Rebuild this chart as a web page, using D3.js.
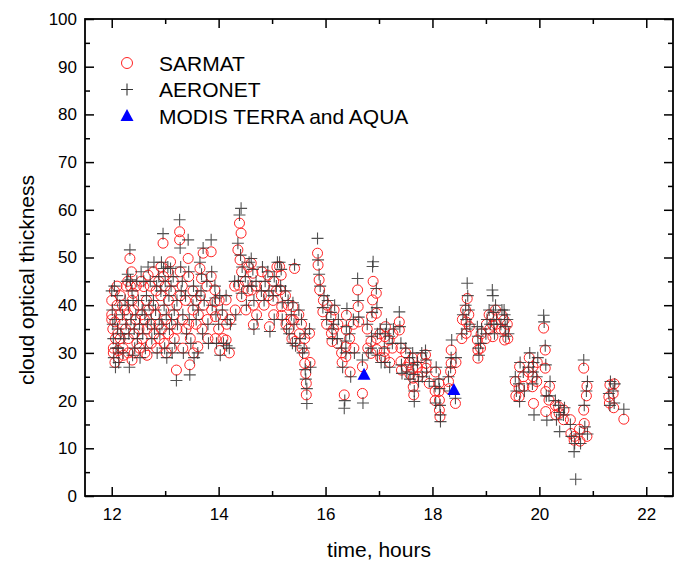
<!DOCTYPE html>
<html>
<head>
<meta charset="utf-8">
<script src="https://cdn.jsdelivr.net/npm/d3@7"></script>
<style>
  body { margin: 0; background: #fff; }
  svg { font-family: "Liberation Sans", Arial, sans-serif; }
</style>
</head>
<body>
<div id="chart"></div>
<script>
// SARMAT retrievals: [time (hours), cloud optical thickness]
var sarmat = [
  [12.0,41],[12.0,38],[12.0,37],[12.02,35],[12.03,31],[12.03,30],
  [12.05,43],[12.06,36.5],[12.06,28],[12.07,33],
  [12.1,40],[12.1,44],[12.11,34],[12.12,30.5],[12.12,29],
  [12.15,38],[12.16,42],[12.16,33],
  [12.2,36],[12.2,40],[12.21,31],[12.22,29.5],
  [12.25,39],[12.26,35],[12.27,44],
  [12.3,45],[12.3,38],[12.31,33],[12.31,30],
  [12.34,49.8],[12.35,44],[12.35,36],
  [12.37,47],[12.38,41],[12.38,28.5],
  [12.4,42.5],[12.41,39],[12.42,34],[12.42,30],
  [12.45,37],[12.46,44],[12.47,32],
  [12.5,40],[12.51,35],[12.52,31],
  [12.55,45],[12.56,38],[12.57,33],
  [12.6,43.9],[12.61,37],[12.62,30],
  [12.65,41],[12.66,35],[12.66,29.5],
  [12.68,46.3],[12.69,39],
  [12.72,44],[12.73,36],[12.74,32],
  [12.78,40],[12.78,47],[12.79,34],
  [12.82,38],[12.83,43],[12.84,31],
  [12.88,45],[12.88,36],[12.89,33],
  [12.92,42],[12.92,48],[12.93,35],
  [12.96,53],[12.97,46],[12.97,39],[12.98,32],
  [13.0,44],[13.01,37],[13.02,30],
  [13.05,47],[13.06,41],[13.06,34],
  [13.1,49.1],[13.1,43],[13.11,36],[13.12,31],
  [13.15,45],[13.16,38],[13.17,33],
  [13.21,26.4],[13.22,40],[13.22,35],
  [13.27,55.4],[13.27,53.7],[13.28,47],[13.28,42],
  [13.32,44],[13.33,37],[13.33,31],
  [13.38,41],[13.39,35],
  [13.43,49.8],[13.44,46],[13.44,36],
  [13.46,27.5],[13.47,33],
  [13.52,39],[13.52,43],[13.53,30],
  [13.58,36],[13.58,41],
  [13.61,31.3],[13.62,38],
  [13.65,47.7],[13.66,42],
  [13.68,45.6],[13.69,35],
  [13.71,50.9],[13.72,40],
  [13.78,44],[13.79,37],[13.8,33],
  [13.86,51.2],[13.86,46],[13.87,39],
  [13.93,43.2],[13.93,40.7],[13.94,37.6],[13.94,33],
  [14.0,35],[14.01,41],[14.02,30.5],
  [14.07,38],[14.08,33],
  [14.14,41.1],[14.14,32.7],[14.15,36],
  [14.2,30],[14.21,37],
  [14.3,44],[14.31,39],
  [14.36,51.6],[14.37,44.2],
  [14.39,57.2],[14.4,49.5],
  [14.42,55.1],[14.43,41.8],[14.43,47],
  [14.5,45],[14.51,39],
  [14.55,43],[14.56,48],
  [14.61,48.8],[14.62,43.2],
  [14.64,46.7],[14.65,40],[14.65,35.9],
  [14.7,44],[14.71,38],
  [14.8,42],[14.81,47],
  [14.85,40],[14.86,44],
  [14.92,46.3],[14.93,42],
  [14.95,35.5],
  [15.02,41],[15.03,38],[15.03,45],
  [15.08,43],[15.09,48],
  [15.14,48.1],[15.15,43.2],
  [15.17,46.3],[15.18,39.7],[15.18,37.9],
  [15.25,42],[15.26,36],
  [15.3,40],[15.31,35],
  [15.36,37],[15.37,33],
  [15.39,39.7],[15.4,36.9],
  [15.42,47.7],[15.43,32.4],
  [15.5,38],[15.51,34],
  [15.55,36],[15.56,31],
  [15.6,29.9],[15.61,27.8],[15.61,33],
  [15.63,25.7],[15.64,23.6],[15.64,21.2],
  [15.7,34.1],[15.71,28],
  [15.85,50.9],[15.86,48.4],
  [15.88,45.3],[15.89,43.2],
  [15.95,38.6],[15.96,41],
  [16.02,36],[16.03,40],
  [16.1,37.6],[16.11,34.1],[16.12,32.4],
  [16.15,35],[16.16,39],
  [16.22,32],[16.23,36],
  [16.3,30],[16.31,28],
  [16.35,21.2],
  [16.38,29.2],[16.38,31.3],[16.39,34.8],[16.39,37.9],
  [16.45,33],[16.46,26],
  [16.52,36],[16.53,31],
  [16.6,43.2],[16.61,39.7],[16.62,36.5],
  [16.69,27.1],[16.69,21.5],
  [16.78,35],[16.79,31],
  [16.85,29.9],[16.85,32.4],[16.86,37.6],
  [16.88,41.1],[16.89,45],
  [16.95,42.5],[16.95,38.3],[16.96,33],[16.96,30.7],
  [17.02,34],[17.03,29],
  [17.1,30.3],[17.1,29],[17.11,33.4],[17.12,35.5],
  [17.19,32.7],[17.2,28],
  [17.25,31],[17.26,34],
  [17.38,36.5],[17.38,34.8],
  [17.41,31],[17.41,28.2],[17.42,26.4],
  [17.5,30],[17.51,27],
  [17.57,28],[17.58,25.5],
  [17.63,28.9],[17.63,26.8],[17.64,24.7],[17.64,22.9],[17.65,21.2],
  [17.72,27],[17.73,25],
  [17.8,29],[17.81,26],
  [17.87,29.6],[17.88,27.8],[17.88,26.8],
  [17.94,23.6],
  [18.05,22],[18.05,20],[18.06,26],
  [18.12,23.6],[18.12,21.9],[18.13,20.1],[18.13,18],[18.14,16.6],
  [18.3,24],[18.31,22.5],
  [18.34,26.1],[18.35,27.8],[18.35,30.6],
  [18.43,19.4],[18.44,28],
  [18.55,33],[18.56,37],
  [18.62,39],[18.63,36.5],[18.63,34.1],[18.65,41.4],
  [18.68,38],[18.69,35.5],
  [18.84,32.7],[18.85,30.6],[18.85,28.9],
  [18.9,31],[18.91,34],
  [19.0,33],[19.01,36],
  [19.06,38],[19.07,35],
  [19.12,37.6],[19.13,35.8],[19.13,33.4],
  [19.18,39],[19.19,36],
  [19.28,35],[19.29,38],
  [19.34,36.9],[19.35,34.8],[19.35,32.7],
  [19.4,36],[19.41,33],
  [19.55,24],[19.56,21],
  [19.62,22.6],[19.62,20.8],[19.63,27.1],
  [19.7,25],[19.71,23],
  [19.8,26],[19.81,29],
  [19.87,22.9],[19.88,25],[19.88,27.1],[19.89,19.4],
  [19.95,24],[19.96,28],
  [20.08,35.2],
  [20.11,30.6],[20.11,26.8],[20.12,21.9],[20.12,17.7],
  [20.18,20.1],[20.19,23],
  [20.3,19],[20.31,17],
  [20.36,18.7],[20.37,17.3],
  [20.45,16],[20.46,18],
  [20.58,16],[20.59,13.1],
  [20.65,11.7],[20.66,12.5],
  [20.75,14],[20.76,11.5],
  [20.83,26.8],[20.83,18],[20.84,15.2],
  [20.88,21],[20.89,23],[20.89,12.5],
  [21.3,20.8],[21.31,19.5],[21.32,23.3],
  [21.38,21.5],[21.39,18.5],[21.4,23.5],
  [21.58,16.1]
];

// AERONET retrievals
var aeronet = [
  [12.0,43],[12.01,39],[12.02,36],[12.03,33],[12.04,29],[12.05,44],[12.06,37],[12.07,27],[12.08,31],
  [12.1,42],[12.11,35],[12.12,31],[12.13,28],[12.15,40],[12.17,34],[12.2,38],[12.21,30],[12.23,33],
  [12.25,41],[12.27,36],[12.28,45],[12.3,46.5],[12.31,40],[12.32,34],[12.33,27],
  [12.34,51.6],[12.35,45.3],[12.36,37],[12.38,43],[12.39,29.5],
  [12.4,41],[12.42,35],[12.43,31],[12.45,38],[12.47,45],[12.48,33],
  [12.5,41],[12.52,36],[12.53,29],[12.55,47],[12.57,39],[12.58,34],
  [12.6,45],[12.62,38],[12.63,31],[12.65,42],[12.67,36],[12.68,48],[12.7,40],
  [12.72,45],[12.74,37],[12.75,33],[12.78,41],[12.79,49],[12.8,35],
  [12.82,39],[12.84,44],[12.85,30],[12.88,46],[12.89,37],[12.9,34],
  [12.92,43],[12.93,49],[12.94,36],[12.96,55],[12.97,47.7],[12.98,40],[12.99,31],
  [13.0,45],[13.02,38],[13.03,29],[13.05,48],[13.07,42],[13.08,35],
  [13.1,47.7],[13.11,44],[13.12,37],[13.13,30],[13.15,46],[13.17,39],[13.18,32],
  [13.21,24.2],[13.22,41],[13.23,36],
  [13.27,57.9],[13.28,52],[13.29,48],[13.3,43],[13.32,45],[13.33,38],[13.34,30],
  [13.38,42],[13.4,34],[13.43,53.7],[13.44,47],[13.45,37],[13.46,25.4],[13.48,32],
  [13.52,40],[13.53,44],[13.54,29],[13.58,37],[13.59,42],[13.61,30],[13.62,39],
  [13.65,49],[13.67,43],[13.68,46.5],[13.7,34],[13.71,52],[13.73,41],
  [13.78,45],[13.8,36],[13.81,32],[13.86,53.7],[13.87,47],[13.88,40],
  [13.93,44],[13.94,41.5],[13.95,38],[13.96,32],
  [14.0,36],[14.02,42],[14.03,29.5],[14.07,39],[14.09,32],
  [14.14,42],[14.15,31.5],[14.16,37],[14.2,31],[14.22,36],
  [14.3,45],[14.32,38],[14.36,53],[14.37,45],
  [14.39,58.9],[14.41,50.5],[14.42,60.3],[14.43,42.5],[14.44,48],
  [14.5,46],[14.52,40],[14.55,44],[14.57,49],[14.61,49.8],[14.62,44],
  [14.64,47.5],[14.66,41],[14.66,35],[14.7,45],[14.72,37],
  [14.8,43],[14.82,48],[14.85,41],[14.87,45],[14.92,47],[14.94,43],[14.96,34.5],
  [15.02,42],[15.04,37],[15.04,46],[15.08,44],[15.1,49],[15.14,49],[15.16,44],
  [15.17,47.5],[15.19,40.5],[15.19,37],[15.25,43],[15.27,35],[15.3,41],[15.32,34],
  [15.36,38],[15.38,32],[15.39,40.5],[15.41,36],[15.42,48.5],[15.44,31.5],
  [15.5,39],[15.52,33],[15.55,37],[15.57,30],
  [15.6,31],[15.62,26.5],[15.62,34],[15.63,24.5],[15.65,22.5],[15.65,19.4],
  [15.7,35],[15.72,27],
  [15.85,54],[15.86,49.5],[15.88,46.5],[15.9,44],[15.95,39.5],[15.97,42],
  [16.02,37],[16.04,41],[16.1,38.5],[16.12,35],[16.13,33],[16.15,36],[16.17,40],
  [16.22,33],[16.24,37],[16.3,31],[16.32,27],
  [16.35,18.4],[16.36,20],[16.38,30],[16.38,32.5],[16.39,35.5],[16.4,39.3],
  [16.45,34],[16.47,25],[16.52,37],[16.54,30],
  [16.6,45.6],[16.61,41],[16.62,37.5],[16.69,28.5],[16.7,19.5],
  [16.78,36],[16.8,30],[16.85,31],[16.86,33.5],[16.87,38.5],
  [16.88,48.1],[16.89,49.1],[16.95,43.5],[16.96,39.5],[16.97,34],[16.97,29.5],
  [17.02,35],[17.04,28],
  [17.1,31],[17.11,28],[17.12,34],[17.14,36],[17.19,33.5],[17.2,27],
  [17.25,32],[17.27,35],
  [17.38,38.6],[17.39,35.5],[17.41,32],[17.42,27.5],[17.43,25.7],
  [17.5,31],[17.52,26],[17.57,29],[17.58,24.5],
  [17.63,30],[17.64,27.5],[17.65,25.5],[17.66,22],[17.66,19.8],
  [17.72,28],[17.74,24],[17.8,30],[17.81,25],
  [17.87,30.5],[17.88,28.5],[17.89,26],[17.94,24],
  [18.05,23],[18.06,19.5],[18.07,27],
  [18.12,24.5],[18.13,22.5],[18.14,19],[18.15,17],[18.15,15.6],
  [18.3,25],[18.32,22],[18.34,27],[18.35,29],[18.36,32.7],
  [18.43,20.5],[18.44,29],
  [18.55,34],[18.57,38],[18.62,40],[18.63,37],[18.64,35],[18.65,44.6],[18.66,42],
  [18.68,39],[18.7,36],
  [18.84,35.5],[18.85,33.5],[18.86,31],[18.87,29.5],[18.9,32],[18.92,35],
  [19.0,34],[19.02,37],[19.06,39],[19.08,36],
  [19.12,43.2],[19.13,42],[19.14,38.5],[19.15,36],[19.16,34],
  [19.18,40],[19.2,37],[19.28,36],[19.3,39],
  [19.34,39],[19.35,38],[19.36,35.5],[19.37,33.5],[19.4,37],[19.42,34],
  [19.55,25],[19.57,22],[19.62,23.5],[19.63,19.8],[19.64,28],
  [19.7,26],[19.72,22],[19.8,27],[19.82,30],
  [19.87,23.5],[19.88,26],[19.89,28],[19.9,17],[19.95,25],[19.97,29],
  [20.08,37.9],[20.09,36.5],
  [20.11,31.5],[20.12,27.5],[20.13,21],[20.14,15.9],[20.18,21],[20.2,24],
  [20.3,20],[20.32,16],[20.36,19],[20.37,17.5],[20.38,13.5],
  [20.45,17],[20.47,18.5],[20.58,15],[20.6,12.5],
  [20.65,9.3],[20.66,11],[20.68,3.5],[20.75,13],[20.77,11],
  [20.83,28.5],[20.84,19],[20.85,14.5],[20.88,22],[20.9,24],[20.9,13],
  [21.3,21.5],[21.32,19],[21.33,24],[21.38,22],[21.4,19.5],[21.41,23.5],
  [21.58,18.2]
];

// MODIS TERRA and AQUA
var modis = [[16.72,25.4],[18.4,22.2]];

var xMajor = [12, 14, 16, 18, 20, 22];
var xMinor = [13, 15, 17, 19, 21];
var yMajor = [0, 10, 20, 30, 40, 50, 60, 70, 80, 90, 100];
var yMinor = [5, 15, 25, 35, 45, 55, 65, 75, 85, 95];

var legendItems = ["SARMAT", "AERONET", "MODIS TERRA and AQUA"];

var W = 676, H = 564;
var margin = {top: 19, right: 3, bottom: 68, left: 85};
var width = W - margin.left - margin.right;
var height = H - margin.top - margin.bottom;

var svg = d3.select("#chart").append("svg")
    .attr("width", W)
    .attr("height", H);

var g = svg.append("g")
    .attr("transform", "translate(" + margin.left + "," + margin.top + ")");

var x = d3.scaleLinear().domain([11.5, 22.5]).range([0, width]);
var y = d3.scaleLinear().domain([0, 100]).range([height, 0]);

// axes: ticks point inward on all four sides
function styleAxis(sel) {
    sel.select(".domain").remove();
    sel.selectAll("line").attr("stroke", "#000").attr("stroke-width", 1.5);
    sel.selectAll("text").attr("fill", "#000").attr("font-size", 17)
        .attr("font-family", "Liberation Sans, Arial, sans-serif");
}

g.append("g").attr("transform", "translate(0," + height + ")")
    .call(d3.axisBottom(x).tickValues(xMajor).tickSize(-9).tickPadding(12).tickFormat(d3.format("d")))
    .call(styleAxis);
g.append("g").attr("transform", "translate(0," + height + ")")
    .call(d3.axisBottom(x).tickValues(xMinor).tickSize(-5).tickFormat(""))
    .call(styleAxis);
g.append("g")
    .call(d3.axisTop(x).tickValues(xMajor).tickSize(-9).tickFormat(""))
    .call(styleAxis);
g.append("g")
    .call(d3.axisTop(x).tickValues(xMinor).tickSize(-5).tickFormat(""))
    .call(styleAxis);

g.append("g")
    .call(d3.axisLeft(y).tickValues(yMajor).tickSize(-9).tickPadding(8).tickFormat(d3.format("d")))
    .call(styleAxis);
g.append("g")
    .call(d3.axisLeft(y).tickValues(yMinor).tickSize(-5).tickFormat(""))
    .call(styleAxis);
g.append("g").attr("transform", "translate(" + width + ",0)")
    .call(d3.axisRight(y).tickValues(yMajor).tickSize(-9).tickFormat(""))
    .call(styleAxis);
g.append("g").attr("transform", "translate(" + width + ",0)")
    .call(d3.axisRight(y).tickValues(yMinor).tickSize(-5).tickFormat(""))
    .call(styleAxis);

g.append("rect")
    .attr("width", width)
    .attr("height", height)
    .attr("fill", "none")
    .attr("stroke", "#000")
    .attr("stroke-width", 1.8);

// markers
var crossPath = "M-6,0H6M0,-6V6";
var triPath = "M0,-7L6.5,5L-6.5,5Z";

g.append("g").selectAll("circle")
    .data(sarmat)
    .enter().append("circle")
    .attr("cx", function (d) { return x(d[0]); })
    .attr("cy", function (d) { return y(d[1]); })
    .attr("r", 5)
    .attr("fill", "none")
    .attr("stroke", "#f22")
    .attr("stroke-width", 1);

g.append("g").selectAll("path")
    .data(aeronet)
    .enter().append("path")
    .attr("d", crossPath)
    .attr("transform", function (d) { return "translate(" + x(d[0]) + "," + y(d[1]) + ")"; })
    .attr("stroke", "#333")
    .attr("stroke-opacity", 0.85)
    .attr("stroke-width", 1.1);

g.append("g").selectAll("path")
    .data(modis)
    .enter().append("path")
    .attr("d", triPath)
    .attr("transform", function (d) { return "translate(" + x(d[0]) + "," + y(d[1]) + ")"; })
    .attr("fill", "#00f");

// legend
var legend = svg.append("g").attr("transform", "translate(127,63)");
legend.append("circle").attr("cx", 0).attr("cy", 0).attr("r", 5.5)
    .attr("fill", "none").attr("stroke", "#f22").attr("stroke-width", 1);
legend.append("path").attr("d", crossPath).attr("transform", "translate(0,26.5)")
    .attr("stroke", "#333").attr("stroke-width", 1.1);
legend.append("path").attr("d", triPath).attr("transform", "translate(0,53)")
    .attr("fill", "#00f");
legend.selectAll("text")
    .data(legendItems)
    .enter().append("text")
    .attr("x", 32)
    .attr("y", function (d, i) { return i * 26.5 + 7.5; })
    .attr("font-size", 21)
    .text(function (d) { return d; });

// axis titles
svg.append("text")
    .attr("x", margin.left + width / 2)
    .attr("y", 557)
    .attr("text-anchor", "middle")
    .attr("font-size", 21)
    .text("time, hours");

svg.append("text")
    .attr("transform", "translate(34,280) rotate(-90)")
    .attr("text-anchor", "middle")
    .attr("font-size", 21)
    .text("cloud optical thickness");
</script>
</body>
</html>
